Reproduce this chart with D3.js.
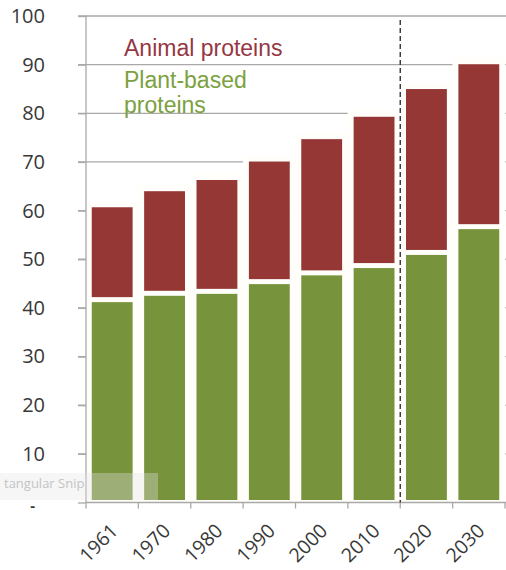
<!DOCTYPE html>
<html>
<head>
<meta charset="utf-8">
<script src="https://cdn.jsdelivr.net/npm/d3@7"></script>
<style>
  html, body { margin: 0; padding: 0; background: #ffffff; }
  svg { display: block; }
</style>
</head>
<body>
<svg id="chart" width="506" height="570"></svg>
<script>
// Protein supply per person (g/day), historical and projected
const years = ["1961", "1970", "1980", "1990", "2000", "2010", "2020", "2030"];
const plantProteins  = [41.7, 43.0, 43.4, 45.4, 47.2, 48.7, 51.4, 56.7];
const animalProteins = [19.5, 21.5, 23.4, 25.2, 28.0, 31.1, 34.1, 33.9];
const yTicks = [0, 10, 20, 30, 40, 50, 60, 70, 80, 90, 100];
const seriesNames = ["Plant-based proteins", "Animal proteins"];
const projectionStart = "2020";

const colors = { plant: "#77933c", animal: "#953735" };

const svg = d3.select("#chart");
const plotLeft = 86, plotRight = 505, plotTop = 16, plotBottom = 502.5;

const rows = years.map((yr, i) => ({ year: yr, plant: plantProteins[i], animal: animalProteins[i] }));
const stack = d3.stack().keys(["plant", "animal"]);
const series = stack(rows);

const x = d3.scaleBand().domain(years).range([plotLeft, plotRight]).paddingInner(0.22).paddingOuter(0.11);
const y = d3.scaleLinear().domain([0, 100]).range([plotBottom, plotTop]);

// gridlines
svg.append("g")
  .selectAll("line")
  .data(yTicks.filter(d => d > 0))
  .join("line")
  .attr("x1", plotLeft - 8).attr("x2", 506)
  .attr("y1", d => y(d)).attr("y2", d => y(d))
  .attr("stroke", "#a9a9a9").attr("stroke-width", 1.3);

// white surround behind each column
const bw = x.bandwidth();
svg.append("g")
  .selectAll("rect")
  .data(rows)
  .join("rect")
  .attr("x", d => x(d.year) - 6)
  .attr("width", bw + 12)
  .attr("y", d => y(d.plant + d.animal) - 4)
  .attr("height", d => y(0) - y(d.plant + d.animal) + 4)
  .attr("fill", "#fffefa");

// stacked segments, separated by a thin white border
const gap = 2.5;
svg.append("g")
  .selectAll("g")
  .data(series)
  .join("g")
  .attr("fill", d => colors[d.key])
  .selectAll("rect")
  .data(d => d)
  .join("rect")
  .attr("x", d => x(d.data.year))
  .attr("width", bw)
  .attr("y", d => y(d[1]) + gap)
  .attr("height", d => Math.max(0, y(d[0]) - y(d[1]) - 2 * gap));

// y axis
const yAxis = svg.append("g")
  .attr("transform", `translate(${plotLeft},0)`)
  .call(d3.axisLeft(y).tickValues(yTicks).tickSize(8).tickPadding(33)
    .tickFormat(d => d === 0 ? "-" : d));
yAxis.select(".domain").attr("stroke", "#a9a9a9").attr("stroke-width", 1.3)
  .attr("d", `M0,${plotTop}V${plotBottom}`);
yAxis.selectAll(".tick line").attr("stroke", "#a9a9a9").attr("stroke-width", 1.3);
yAxis.selectAll(".tick text")
  .attr("fill", "#383838")
  .style("font-family", "'Open Sans', sans-serif")
  .style("font-size", "20px");
yAxis.selectAll(".tick").filter(d => d === 0).select("text")
  .attr("x", -51).attr("dy", "0.55em")
  .style("font-size", "15px")
  .style("font-weight", "bold");

// x axis baseline with ticks at category boundaries
const xg = svg.append("g");
xg.append("line")
  .attr("x1", plotLeft).attr("x2", 506)
  .attr("y1", plotBottom).attr("y2", plotBottom)
  .attr("stroke", "#a9a9a9").attr("stroke-width", 1.3);
const step = x.step();
xg.selectAll("line.tick")
  .data(d3.range(years.length + 1))
  .join("line")
  .attr("class", "tick")
  .attr("x1", i => plotLeft + i * step).attr("x2", i => plotLeft + i * step)
  .attr("y1", plotBottom).attr("y2", plotBottom + 6)
  .attr("stroke", "#a9a9a9").attr("stroke-width", 1.3);
xg.selectAll("text")
  .data(years)
  .join("text")
  .attr("transform", d => `translate(${x(d) + bw / 2 + 7},532) rotate(-45)`)
  .attr("text-anchor", "end")
  .attr("fill", "#383838")
  .style("font-family", "'Open Sans', sans-serif")
  .style("font-size", "19.5px")
  .text(d => d);

// dashed divider between historical and projected values
const divX = x(projectionStart) - (step - bw) / 2;
svg.append("line")
  .attr("x1", divX).attr("x2", divX)
  .attr("y1", 20).attr("y2", plotBottom)
  .attr("stroke", "#333333").attr("stroke-width", 1.4)
  .attr("stroke-dasharray", "5,3");

// legend text
const legend = svg.append("g").style("font-family", "'Liberation Sans', Arial, sans-serif")
  .style("font-size", "23px");
legend.append("text")
  .attr("x", 124).attr("y", 56)
  .attr("fill", "#953745")
  .text(seriesNames[1]);
const plantLabel = legend.append("text")
  .attr("x", 124).attr("y", 88)
  .attr("fill", "#7ba140");
plantLabel.append("tspan").attr("x", 124).text("Plant-based");
plantLabel.append("tspan").attr("x", 124).attr("dy", 25).text("proteins");

// translucent snip label overlay
const snip = svg.append("g");
snip.append("rect")
  .attr("x", 0).attr("y", 473).attr("width", 158).attr("height", 27)
  .attr("fill", "#e6e6e6").attr("opacity", 0.35);
snip.append("text")
  .attr("x", 4).attr("y", 488)
  .attr("fill", "#c4c4c4")
  .style("font-family", "'Open Sans', sans-serif")
  .style("font-size", "13px")
  .text("tangular Snip");
</script>
</body>
</html>
